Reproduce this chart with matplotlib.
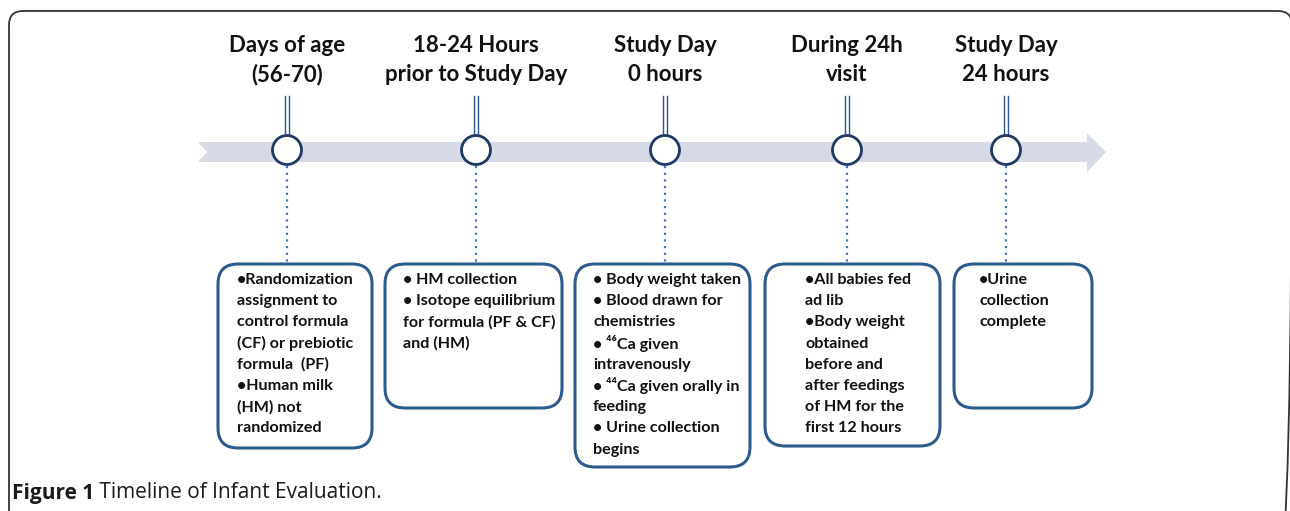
"""
Timeline of infant evaluation: events along an arrow with notes boxes.
"""
import matplotlib
matplotlib.use("Agg")
from matplotlib import pyplot as plt
from matplotlib.patches import FancyBboxPatch, Polygon, Circle

# ---- content -------------------------------------------------------------
event_titles = [
    "Days of age\n(56-70)",
    "18-24 Hours\nprior to Study Day",
    "Study Day\n0 hours",
    "During 24h\nvisit",
    "Study Day\n24 hours",
]
box_notes = [
    ["•Randomization", "assignment to", "control formula",
     "(CF) or prebiotic", "formula  (PF)", "•Human milk", "(HM) not",
     "randomized"],
    ["• HM collection", "• Isotope equilibrium", "for formula (PF & CF)",
     "and (HM)"],
    ["• Body weight taken", "• Blood drawn for", "chemistries",
     "• \u2074\u2076Ca given", "intravenously",
     "• \u2074\u2074Ca given orally in", "feeding", "• Urine collection",
     "begins"],
    ["•All babies fed", "ad lib", "•Body weight", "obtained", "before and",
     "after feedings", "of HM for the", "first 12 hours"],
    ["•Urine", "collection", "complete"],
]
caption_bold = "Figure 1"
caption_rest = " Timeline of Infant Evaluation."

# ---- layout (pixel coordinates) -----------------------------------------
marker_x = [287, 476, 665, 847, 1006]
box_left = [218, 385, 575, 765, 954]
box_right = [372, 562, 750, 940, 1092]
box_bottom = [448, 408, 467, 446, 408]
text_left = [237, 403, 593, 805, 979]
box_top = 264
line_y = 152

NAVY = "#1f3864"
BOX_EDGE = "#2e5b8e"
BAND = "#d6dae6"
FONT = ["Lato", "DejaVu Sans"]
CAP_FONT = ["Open Sans", "DejaVu Sans"]

fig = plt.figure(figsize=(12.9, 5.11), dpi=100)
axs = fig.add_axes([0, 0, 1, 1])
axs.set_xlim(0, 1290)
axs.set_ylim(511, 0)
axs.axis("off")

# outer frame (open at the bottom of the image)
frame = FancyBboxPatch((9, 11), 1283, 560, boxstyle="round,pad=0,rounding_size=14",
                       facecolor="none", edgecolor="#333333", linewidth=1.3,
                       zorder=1)
axs.add_patch(frame)

# arrow band with notched tail
band = Polygon([(198, 142), (1087, 142), (1087, 133), (1106, line_y),
                (1087, 172), (1087, 162), (198, 162), (207, line_y)],
               closed=True, facecolor=BAND, edgecolor="none", zorder=2)
axs.add_patch(band)

for i, x in enumerate(marker_x):
    # double line from title down to circle
    for dx in (-2.2, 2.2):
        axs.plot([x + dx, x + dx], [96, 136], color="#2f5597", lw=1.0,
                 zorder=3)
    axs.add_patch(Circle((x, 150), 14.5, facecolor="white", edgecolor=NAVY,
                         linewidth=2.0, zorder=4))
    # dotted connector to the box
    axs.plot([x, x], [166, box_top], color="#4472c4", lw=1.6,
             linestyle=(0, (1, 2)), zorder=3)

    axs.text(x, 60, event_titles[i], ha="center", va="center",
             fontsize=16, fontweight="bold", family=FONT, color="#111111",
             linespacing=1.45)

    box = FancyBboxPatch((box_left[i], box_top),
                         box_right[i] - box_left[i], box_bottom[i] - box_top,
                         boxstyle="round,pad=0,rounding_size=20",
                         facecolor="white", edgecolor=BOX_EDGE,
                         linewidth=2.2, zorder=3)
    axs.add_patch(box)
    for j, line in enumerate(box_notes[i]):
        axs.text(text_left[i], 280 + j * 21.2, line, ha="left", va="center",
                 fontsize=11.6, fontweight="bold", family=FONT,
                 color="#111111", zorder=5)

# caption
cap = axs.text(12, 493, caption_bold, ha="left", va="center", fontsize=15,
               fontweight="bold", family=CAP_FONT, color="#1a1a1a")
fig.canvas.draw()
ext = cap.get_window_extent()
x_end = axs.transData.inverted().transform((ext.x1, ext.y0))[0]
axs.text(x_end, 493, caption_rest, ha="left", va="center", fontsize=15,
         family=CAP_FONT, color="#1a1a1a")

plt.savefig("out.png", dpi=100)
plt.close()
